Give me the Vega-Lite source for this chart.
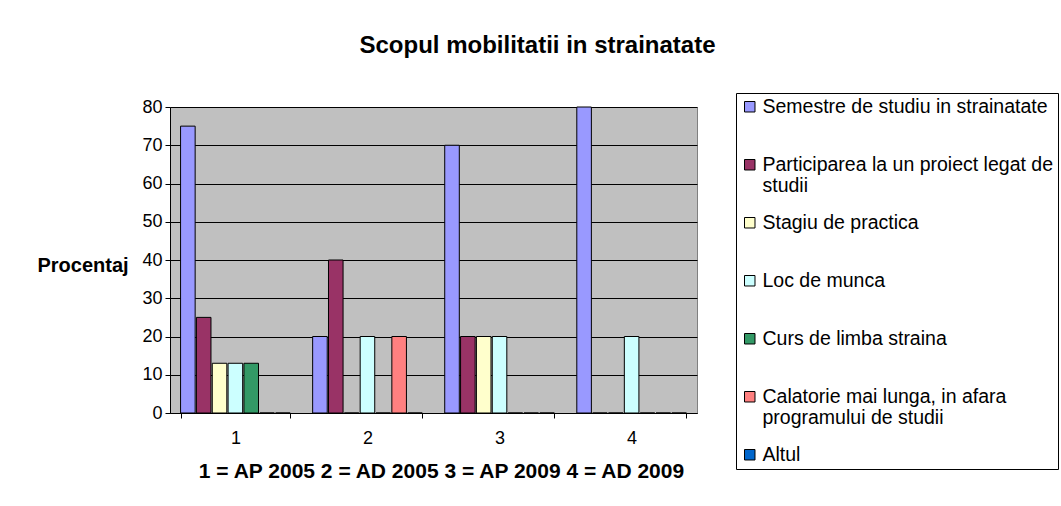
{
  "$schema": "https://vega.github.io/schema/vega-lite/v6.json",
  "autosize": {"type": "none"},
  "width": 527,
  "height": 306,
  "padding": {"left": 170, "top": 107, "right": 364, "bottom": 93},
  "background": "#ffffff",
  "title": {
    "text": "Scopul mobilitatii in strainatate",
    "font": "Liberation Sans",
    "fontSize": 24,
    "fontWeight": "bold",
    "color": "#000000",
    "anchor": "middle",
    "dx": 104,
    "offset": 35
  },
  "data": {
    "values": [
      {"grup": "1", "scop": "Semestre de studiu in strainatate", "ord": 1, "v": 75},
      {"grup": "1", "scop": "Participarea la un proiect legat de studii", "ord": 2, "v": 25},
      {"grup": "1", "scop": "Stagiu de practica", "ord": 3, "v": 13},
      {"grup": "1", "scop": "Loc de munca", "ord": 4, "v": 13},
      {"grup": "1", "scop": "Curs de limba straina", "ord": 5, "v": 13},
      {"grup": "1", "scop": "Calatorie mai lunga, in afara programului de studii", "ord": 6, "v": 0},
      {"grup": "1", "scop": "Altul", "ord": 7, "v": 0},
      {"grup": "2", "scop": "Semestre de studiu in strainatate", "ord": 1, "v": 20},
      {"grup": "2", "scop": "Participarea la un proiect legat de studii", "ord": 2, "v": 40},
      {"grup": "2", "scop": "Stagiu de practica", "ord": 3, "v": 0},
      {"grup": "2", "scop": "Loc de munca", "ord": 4, "v": 20},
      {"grup": "2", "scop": "Curs de limba straina", "ord": 5, "v": 0},
      {"grup": "2", "scop": "Calatorie mai lunga, in afara programului de studii", "ord": 6, "v": 20},
      {"grup": "2", "scop": "Altul", "ord": 7, "v": 0},
      {"grup": "3", "scop": "Semestre de studiu in strainatate", "ord": 1, "v": 70},
      {"grup": "3", "scop": "Participarea la un proiect legat de studii", "ord": 2, "v": 20},
      {"grup": "3", "scop": "Stagiu de practica", "ord": 3, "v": 20},
      {"grup": "3", "scop": "Loc de munca", "ord": 4, "v": 20},
      {"grup": "3", "scop": "Curs de limba straina", "ord": 5, "v": 0},
      {"grup": "3", "scop": "Calatorie mai lunga, in afara programului de studii", "ord": 6, "v": 0},
      {"grup": "3", "scop": "Altul", "ord": 7, "v": 0},
      {"grup": "4", "scop": "Semestre de studiu in strainatate", "ord": 1, "v": 80},
      {"grup": "4", "scop": "Participarea la un proiect legat de studii", "ord": 2, "v": 0},
      {"grup": "4", "scop": "Stagiu de practica", "ord": 3, "v": 0},
      {"grup": "4", "scop": "Loc de munca", "ord": 4, "v": 20},
      {"grup": "4", "scop": "Curs de limba straina", "ord": 5, "v": 0},
      {"grup": "4", "scop": "Calatorie mai lunga, in afara programului de studii", "ord": 6, "v": 0},
      {"grup": "4", "scop": "Altul", "ord": 7, "v": 0}
    ]
  },
  "mark": {"type": "bar", "stroke": "#000000", "strokeWidth": 1},
  "encoding": {
    "x": {
      "field": "grup",
      "type": "nominal",
      "scale": {"paddingInner": 0.17, "paddingOuter": 0.08},
      "axis": {
        "title": "1 = AP 2005 2 = AD 2005 3 = AP 2009 4 = AD 2009",
        "titleFont": "Liberation Sans",
        "titleFontSize": 21,
        "titleFontWeight": "bold",
        "titleColor": "#000000",
        "titleX": 271,
        "titleY": 58,
        "titleAlign": "center",
        "titleBaseline": "middle",
        "labelAngle": 0,
        "labelFont": "Liberation Sans",
        "labelFontSize": 18,
        "labelColor": "#000000",
        "labelPadding": 11,
        "tickBand": "extent",
        "tickColor": "#000000",
        "tickSize": 5,
        "domainColor": "#000000",
        "grid": false
      }
    },
    "xOffset": {
      "field": "scop",
      "type": "nominal",
      "sort": {"field": "ord"},
      "scale": {"paddingInner": 0.08}
    },
    "y": {
      "field": "v",
      "type": "quantitative",
      "scale": {"domain": [0, 80]},
      "axis": {
        "values": [0, 10, 20, 30, 40, 50, 60, 70, 80],
        "title": "Procentaj",
        "titleFont": "Liberation Sans",
        "titleFontSize": 20,
        "titleFontWeight": "bold",
        "titleColor": "#000000",
        "titleAngle": 0,
        "titleX": -133,
        "titleY": 158,
        "titleAlign": "left",
        "titleBaseline": "middle",
        "labelFont": "Liberation Sans",
        "labelFontSize": 18,
        "labelColor": "#000000",
        "labelPadding": 3,
        "tickColor": "#000000",
        "tickSize": 5,
        "domainColor": "#000000",
        "gridColor": "#000000",
        "gridOpacity": 1,
        "gridWidth": 1
      }
    },
    "color": {
      "field": "scop",
      "type": "nominal",
      "sort": {"field": "ord"},
      "scale": {
        "domain": [
          "Semestre de studiu in strainatate",
          "Participarea la un proiect legat de studii",
          "Stagiu de practica",
          "Loc de munca",
          "Curs de limba straina",
          "Calatorie mai lunga, in afara programului de studii",
          "Altul"
        ],
        "range": ["#9999FF", "#993366", "#FFFFCC", "#CCFFFF", "#339966", "#FF8080", "#0066CC"]
      },
      "legend": {
        "title": null,
        "orient": "none",
        "legendX": 566,
        "legendY": -14,
        "fillColor": "#ffffff",
        "strokeColor": "#000000",
        "padding": 4,
        "symbolType": "square",
        "symbolSize": 110,
        "symbolStrokeColor": "#000000",
        "symbolStrokeWidth": 1,
        "labelFont": "Liberation Sans",
        "labelFontSize": 19.5,
        "labelColor": "#000000",
        "labelLimit": 400,
        "labelOffset": 3,
        "labelBaseline": "top",
        "gridAlign": "all",
        "rowPadding": 16,
        "labelExpr": "datum.label == 'Participarea la un proiect legat de studii' ? ['Participarea la un proiect legat de', 'studii'] : datum.label == 'Calatorie mai lunga, in afara programului de studii' ? ['Calatorie mai lunga, in afara', 'programului de studii'] : datum.label",
        "encode": {
          "labels": {"update": {"dy": {"value": -9}}},
          "symbols": {"update": {"dy": {"value": 2}}}
        }
      }
    }
  },
  "config": {
    "view": {"fill": "#C0C0C0", "stroke": "#808080"}
  }
}
